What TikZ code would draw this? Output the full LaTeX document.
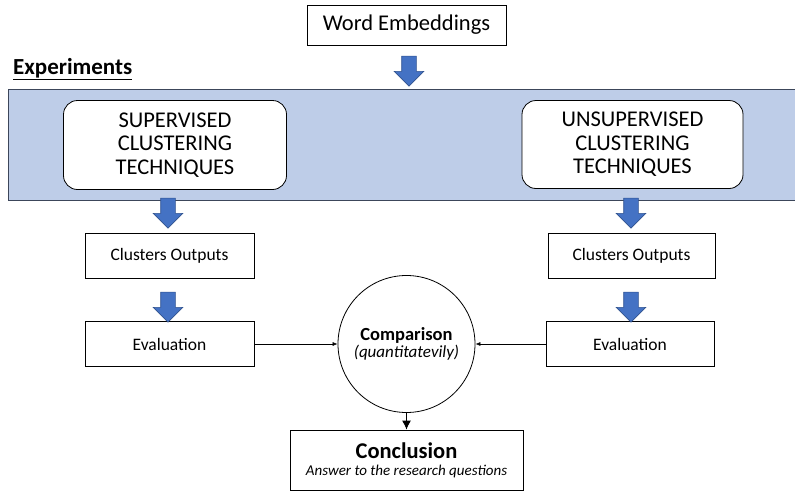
\documentclass[tikz,border=0pt]{standalone}
\usepackage{fontspec}
\setmainfont{Carlito}
\usetikzlibrary{shapes.arrows,arrows.meta}
\definecolor{bandfill}{RGB}{190,205,232}
\definecolor{bandedge}{RGB}{60,70,90}
\definecolor{arrowblue}{RGB}{68,114,196}
\definecolor{arrowedge}{RGB}{47,82,143}
\begin{document}
\begin{tikzpicture}[x=1pt,y=-1pt,
  plainbox/.style={draw=black, line width=0.8pt, fill=white, inner sep=0pt, align=center},
  techbox/.style={plainbox, rounded corners=14pt, font=\fontsize{22.5}{23.5}\selectfont},
  smallbox/.style={plainbox, minimum width=169pt, minimum height=45pt, font=\fontsize{17.5}{20}\selectfont},
  blockarrow/.style={single arrow, draw=arrowedge, line width=0.6pt, fill=arrowblue,
    shape border rotate=270, minimum height=30pt, minimum width=29pt,
    single arrow head extend=7.5pt, inner sep=7pt, single arrow head indent=0pt},
  thinarrow/.style={-{Latex[length=5pt,width=4pt]}, line width=0.6pt}
]
\useasboundingbox (0,0) rectangle (795,498);

% input box and experiments band
\node[plainbox, minimum width=199pt, minimum height=40pt, font=\fontsize{22.5}{25}\selectfont] (emb) at (406.5,25) {Word Embeddings};
\node[font=\fontsize{23}{26}\selectfont\bfseries, anchor=west, inner sep=0pt] (exp) at (13,69) {\underline{Experiments}};
\node[draw=bandedge, line width=0.8pt, fill=bandfill, minimum width=800pt, minimum height=111pt, inner sep=0pt, anchor=north west] (band) at (8,88.5) {};
\node[blockarrow] (a0) at (409,67.5) {};

% technique boxes
\node[techbox, minimum width=223pt, minimum height=89pt] (sup) at (175,145)
  {SUPERVISED\\CLUSTERING\\TECHNIQUES};
\node[techbox, minimum width=221pt, minimum height=88pt] (uns) at (632.5,144.5)
  {UNSUPERVISED\\CLUSTERING\\TECHNIQUES};

% left column
\node[smallbox] (outl) at (169.5,255.5) {Clusters Outputs};
\node[smallbox] (evall) at (169.5,344) {Evaluation};
% right column
\node[smallbox, minimum width=167pt] (outr) at (631.5,255.5) {Clusters Outputs};
\node[smallbox, minimum width=168pt] (evalr) at (630,344) {Evaluation};

\node[blockarrow] (a1) at (168,209.5) {};
\node[blockarrow] (a2) at (168,303.5) {};
\node[blockarrow] (a3) at (631,209.5) {};
\node[blockarrow] (a4) at (631,303.5) {};

% comparison and conclusion
\node[draw=black, line width=0.8pt, circle, minimum size=137pt, inner sep=0pt, align=center] (cmp) at (406.5,344)
  {{\fontsize{18.5}{22}\selectfont\bfseries Comparison}\\[1pt]{\fontsize{17}{20}\selectfont\itshape (quantitatevily)}};
\node[plainbox, minimum width=233pt, minimum height=60pt, align=center] (conc) at (406.5,460)
  {{\fontsize{22.5}{24}\selectfont\bfseries Conclusion}\\[5pt]{\fontsize{15}{17}\selectfont\itshape Answer to the research questions}};

\draw[thinarrow] (evall.east) -- (cmp.west);
\draw[thinarrow] (evalr.west) -- (cmp.east);
\draw[-{Latex[length=9pt,width=9pt]}, line width=1pt] (cmp.south) -- (conc.north);
\end{tikzpicture}
\end{document}
